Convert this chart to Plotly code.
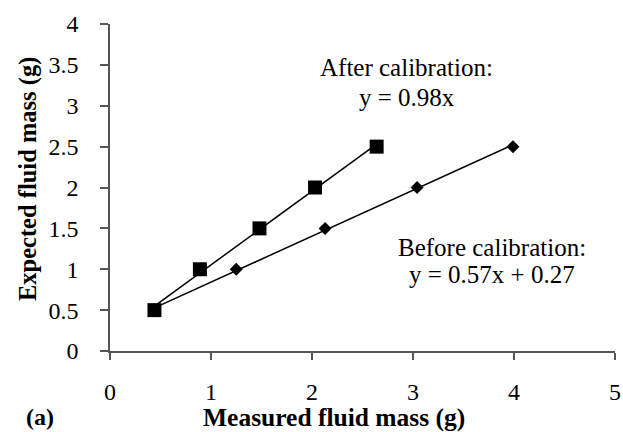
import numpy as np
import plotly.graph_objects as go

# Data
after_x = [0.44, 0.89, 1.48, 2.03, 2.64]
after_y = [0.5, 1.0, 1.5, 2.0, 2.5]
before_x = [0.44, 1.25, 2.13, 3.04, 3.99]
before_y = [0.5, 1.0, 1.5, 2.0, 2.5]

x_ticks = [0, 1, 2, 3, 4, 5]
y_ticks = [0, 0.5, 1, 1.5, 2, 2.5, 3, 3.5, 4]

FONT = "Liberation Serif"


def trend(xs, ys):
    k, b = np.polyfit(xs, ys, 1)
    xe = np.array([min(xs), max(xs)])
    return xe, k * xe + b


fig = go.Figure()

for xs, ys in [(before_x, before_y), (after_x, after_y)]:
    tx, ty = trend(xs, ys)
    fig.add_trace(go.Scatter(x=tx, y=ty, mode="lines",
                             line=dict(color="black", width=1.5),
                             showlegend=False, hoverinfo="skip"))

fig.add_trace(go.Scatter(x=before_x, y=before_y, mode="markers",
                         marker=dict(symbol="diamond", size=10, color="black"),
                         showlegend=False))
fig.add_trace(go.Scatter(x=after_x, y=after_y, mode="markers",
                         marker=dict(symbol="square", size=14, color="black"),
                         showlegend=False))

annos = [
    dict(x=2.94, y=3.47, text="After calibration:"),
    dict(x=2.94, y=3.1, text="y = 0.98x"),
    dict(x=3.78, y=1.27, text="Before calibration:"),
    dict(x=3.78, y=0.93, text="y = 0.57x + 0.27"),
]
for a in annos:
    fig.add_annotation(x=a["x"], y=a["y"], xref="x", yref="y", text=a["text"],
                       showarrow=False, font=dict(family=FONT, size=25, color="black"))

fig.add_annotation(x=334, y=417, xref="paper", yref="paper", text="<b>Measured fluid mass (g)</b>",
                   showarrow=False, font=dict(family=FONT, size=25.5, color="black"))
fig.add_annotation(x=40, y=417, xref="paper", yref="paper", text="<b>(a)</b>",
                   showarrow=False, font=dict(family=FONT, size=24, color="black"))
fig.add_annotation(x=28, y=179, xref="paper", yref="paper", text="<b>Expected fluid mass (g)</b>",
                   textangle=-90, showarrow=False, font=dict(family=FONT, size=24.5, color="black"))

# convert pixel positions for the paper annotations
W, H = 623, 432
L, R, T, B = 110, 8, 24, 81
pw, ph = W - L - R, H - T - B
for ann in fig.layout.annotations[-3:]:
    ann.x = (ann.x - L) / pw
    ann.y = (H - B - ann.y) / ph
    ann.xanchor = "center"
    ann.yanchor = "middle"

fig.update_layout(
    width=W, height=H,
    margin=dict(l=L, r=R, t=T, b=B),
    paper_bgcolor="white", plot_bgcolor="white",
    font=dict(family=FONT, size=24, color="black"),
    xaxis=dict(range=[0, 5], tickvals=x_ticks, showgrid=False, zeroline=False,
               showline=True, linecolor="#555", linewidth=1.5, automargin=False,
               ticks="outside", ticklen=7, tickcolor="#555", tickwidth=1.5,
               ticklabelstandoff=11, tickfont=dict(family=FONT, size=24, color="black")),
    yaxis=dict(range=[0, 4], tickvals=y_ticks, showgrid=False, zeroline=False,
               showline=True, linecolor="#555", linewidth=1.5, automargin=False,
               ticks="outside", ticklen=8, tickcolor="#555", tickwidth=1.5,
               ticklabelstandoff=17, tickfont=dict(family=FONT, size=24, color="black")),
)

fig.write_html("out.html", config={"displayModeBar": False},
               post_script="document.body.style.margin='0';document.body.style.overflow='hidden';")
